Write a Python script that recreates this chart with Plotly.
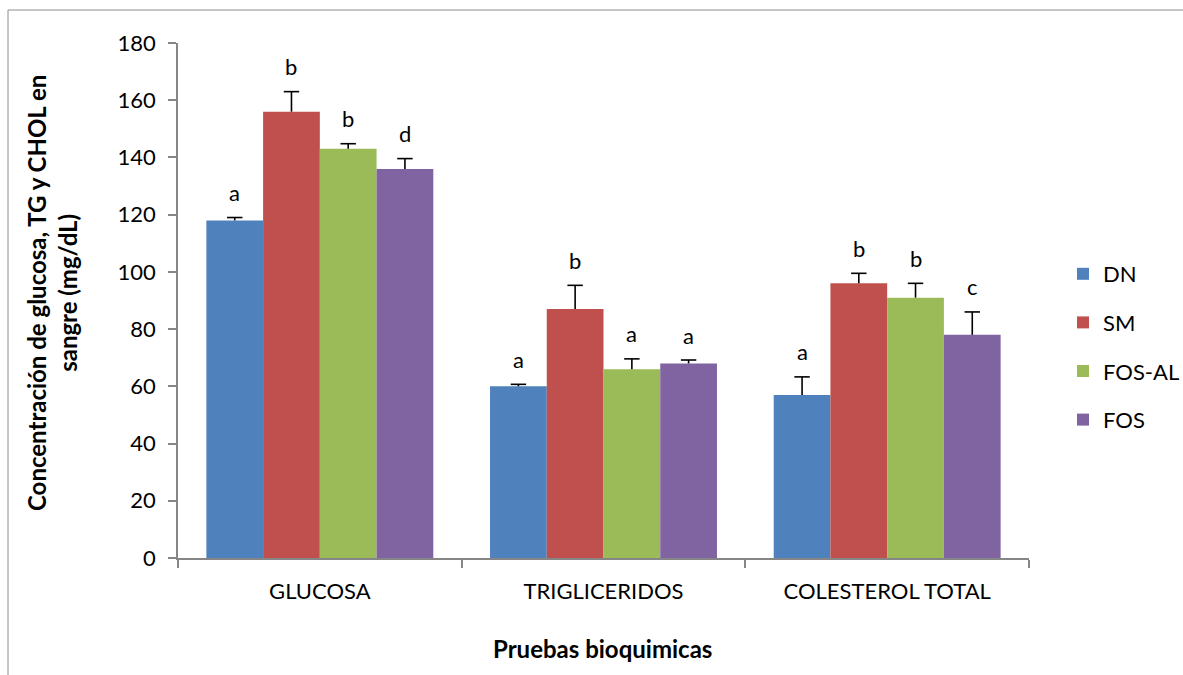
import plotly.graph_objects as go

categories = ["GLUCOSA", "TRIGLICERIDOS", "COLESTEROL TOTAL"]
groups = ["DN", "SM", "FOS-AL", "FOS"]
colors = ["#4F81BD", "#C0504D", "#9BBB59", "#8064A2"]

values = {
    "DN": [118, 60, 57],
    "SM": [156, 87, 96],
    "FOS-AL": [143, 66, 91],
    "FOS": [136, 68, 78],
}
errors = {
    "DN": [1, 0.7, 6.3],
    "SM": [7, 8.3, 3.5],
    "FOS-AL": [1.8, 3.6, 5],
    "FOS": [3.6, 1.2, 8],
}
letters = {
    "DN": ["a", "a", "a"],
    "SM": ["b", "b", "b"],
    "FOS-AL": ["b", "a", "b"],
    "FOS": ["d", "a", "c"],
}

FONT = "Lato, 'Open Sans', Arial, sans-serif"

ncat = len(categories)
ng = len(groups)
bargap = 0.2
group_width = 1 - bargap
xpos = list(range(ncat))

fig = go.Figure()
for i, g in enumerate(groups):
    fig.add_trace(go.Bar(
        name=g, x=xpos, y=values[g], legendgroup=g,
        marker=dict(color=colors[i], line=dict(width=0)),
        hoverinfo="skip",
    ))

# upper error whiskers: a cap marker at mean+SE and a stem down to the bar top,
# with the significance letter above each whisker
for i, g in enumerate(groups):
    offset = -group_width / 2 + group_width / ng * (i + 0.5)
    xs = [j + offset for j in xpos]
    tops = [v + e for v, e in zip(values[g], errors[g])]
    fig.add_trace(go.Scatter(
        x=xs, y=tops, mode="markers",
        marker=dict(symbol="line-ew", size=11,
                    line=dict(color="black", width=1.6)),
        error_y=dict(type="data", array=[0] * ncat, arrayminus=errors[g],
                     symmetric=False, color="black", thickness=1.6, width=0),
        showlegend=False, hoverinfo="skip", cliponaxis=False,
    ))
    for x, y, t in zip(xs, tops, letters[g]):
        fig.add_annotation(
            x=x, y=y, xref="x", yref="y", text=t, showarrow=False,
            yanchor="middle", yshift=25,
            font=dict(family=FONT, size=22, color="black"),
        )

W, H = 1183, 675
L, R, T, B = 178, 1029, 43, 558
pw, ph = R - L, B - T

def px(xp):
    return (xp - L) / pw

def py(yp):
    return (B - yp) / ph

fig.add_annotation(
    x=px(52), y=py(293), xref="paper", yref="paper",
    text="<b>Concentración de glucosa, TG y CHOL en<br>sangre (mg/dL)</b>",
    textangle=-90, showarrow=False, xanchor="center", yanchor="middle",
    font=dict(family=FONT, size=24, color="black"),
)
fig.add_annotation(
    x=px(602), y=py(648), xref="paper", yref="paper",
    text="<b>Pruebas bioquimicas</b>", showarrow=False,
    xanchor="center", yanchor="middle",
    font=dict(family=FONT, size=24, color="black"),
)

# outer frame
fig.add_shape(type="rect", xref="paper", yref="paper",
              x0=px(8), x1=px(W + 20), y0=py(H + 20), y1=py(10),
              line=dict(color="#8C8C8C", width=1), fillcolor="rgba(0,0,0,0)")

fig.update_layout(
    width=W, height=H,
    margin=dict(l=L, r=W - R, t=T, b=H - B, autoexpand=False),
    paper_bgcolor="white", plot_bgcolor="white",
    barmode="group", bargap=bargap, bargroupgap=0,
    font=dict(family=FONT, color="black"),
    showlegend=True,
    legend=dict(x=px(1063), y=py(253), xanchor="left", yanchor="top",
                font=dict(family=FONT, size=22, color="black"),
                tracegroupgap=17, itemwidth=30),
)

fig.update_xaxes(
    range=[-0.5, ncat - 0.5],
    tickmode="array", tickvals=xpos, ticktext=categories, ticks="",
    minor=dict(tickmode="array", tickvals=[k - 0.5 for k in range(ncat + 1)],
               ticks="outside", ticklen=8, tickcolor="#868686", tickwidth=1.5,
               showgrid=False),
    showline=True, linecolor="#868686", linewidth=1.5,
    tickfont=dict(family=FONT, size=22, color="black"),
    ticklabelstandoff=13,
    showgrid=False, zeroline=False,
)
fig.update_yaxes(
    range=[0, 180], dtick=20,
    showline=True, linecolor="#868686", linewidth=1.5,
    ticks="outside", ticklen=8, tickcolor="#868686", tickwidth=1.5,
    tickfont=dict(family=FONT, size=22, color="black"),
    ticklabelstandoff=8,
    showgrid=False, zeroline=False,
)

fig.write_html("out.html")
